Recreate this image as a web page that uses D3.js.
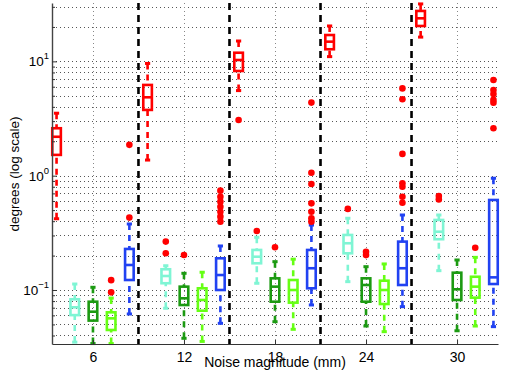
<!DOCTYPE html>
<html>
<head>
<meta charset="utf-8">
<script src="https://cdn.jsdelivr.net/npm/d3@7"></script>
<style>
  body { margin: 0; background: #fff; }
  svg { display: block; font-family: "Liberation Sans", Arial, sans-serif; }
</style>
</head>
<body>
<svg id="chart" width="505" height="373"></svg>
<script>
// noise levels on the x axis, and the dashed dividers between them
const noiseLevels = [6, 12, 18, 24, 30];
const dividers = [9, 15, 21, 27];

// one colour and x offset per method (5 boxes per noise level)
const seriesColors = ["#ff0000", "#7ff5d4", "#1c9a12", "#66ff14", "#2142f2"];
const seriesOffsets = [-2.4, -1.2, 0, 1.2, 2.4];

// box stats per noise level: [low whisker, q1, median, q3, high whisker]
const redBoxes = [
  [0.42, 1.52, 2.19, 2.6, 3.52],
  [1.37, 3.76, 4.85, 6.22, 9.59],
  [5.55, 8.24, 10.28, 11.9, 15.07],
  [11.0, 12.76, 14.87, 17.0, 20.4],
  [16.3, 20.4, 23.8, 27.6, 31.8]
];
const cyanBoxes = [
  [0.035, 0.0603, 0.0706, 0.0829, 0.1128],
  [0.0692, 0.1146, 0.1326, 0.1518, 0.163],
  [0.1145, 0.1713, 0.1955, 0.224, 0.289],
  [0.1183, 0.2095, 0.2564, 0.303, 0.424],
  [0.1476, 0.278, 0.3236, 0.41, 0.453]
];
const darkGreenBoxes = [
  [0.034, 0.054, 0.0646, 0.079, 0.1056],
  [0.0378, 0.0739, 0.0846, 0.107, 0.14],
  [0.0528, 0.079, 0.107, 0.1265, 0.177],
  [0.0484, 0.079, 0.1106, 0.1265, 0.16],
  [0.044, 0.0818, 0.1014, 0.1417, 0.183]
];
const lightGreenBoxes = [
  [0.034, 0.0447, 0.0565, 0.0638, 0.085],
  [0.0355, 0.0659, 0.0818, 0.1035, 0.143],
  [0.0453, 0.0775, 0.1, 0.1223, 0.186],
  [0.0432, 0.0754, 0.1, 0.1206, 0.169],
  [0.0484, 0.0857, 0.107, 0.1306, 0.193]
];
const blueBoxes = [
  [0.0617, 0.1223, 0.1655, 0.2286, 0.378],
  [0.0511, 0.1, 0.1352, 0.1894, 0.2427],
  [0.074, 0.1035, 0.155, 0.224, 0.37],
  [0.0715, 0.1106, 0.155, 0.265, 0.453],
  [0.0478, 0.1128, 0.129, 0.613, 0.95]
];
const allBoxes = [redBoxes, cyanBoxes, darkGreenBoxes, lightGreenBoxes, blueBoxes];

// outliers: [noise level, series index, value]
const outliers = [
  [6, 3, 0.122], [6, 3, 0.0954], [6, 4, 1.86], [6, 4, 0.43],
  [12, 1, 0.265], [12, 1, 0.2095], [12, 2, 0.2024],
  [12, 4, 0.74], [12, 4, 0.655], [12, 4, 0.593], [12, 4, 0.535], [12, 4, 0.484], [12, 4, 0.438], [12, 4, 0.396],
  [18, 0, 3.07], [18, 1, 0.328], [18, 2, 0.2365],
  [18, 4, 4.36], [18, 4, 1.06], [18, 4, 0.846], [18, 4, 0.573], [18, 4, 0.484], [18, 4, 0.424], [18, 4, 0.396],
  [24, 1, 0.512], [24, 2, 0.216], [24, 2, 0.202],
  [24, 4, 5.8], [24, 4, 4.66], [24, 4, 1.55], [24, 4, 0.858], [24, 4, 0.8], [24, 4, 0.655], [24, 4, 0.58],
  [30, 1, 0.664], [30, 1, 0.62], [30, 3, 0.234],
  [30, 4, 6.87], [30, 4, 5.62], [30, 4, 5.19], [30, 4, 4.6], [30, 4, 4.35], [30, 4, 2.6]
];

const yDecades = [0.1, 1, 10];
const decadeExp = ["\u22121", "0", "1"];

const plot = { left: 52, right: 498, top: 3, bottom: 344 };
const svg = d3.select("#chart");

const x = d3.scaleLinear().domain([3.3, 32.7]).range([plot.left, plot.right]);
const y = d3.scaleLog().domain([0.0337, 32.4]).range([plot.bottom, plot.top]);

const crisp = (v) => Math.round(v) + 0.5;

// grid lines (dotted)
svg.append("g")
  .selectAll("line")
  .data(y.ticks())
  .join("line")
  .attr("x1", plot.left)
  .attr("x2", plot.right)
  .attr("y1", (d) => crisp(y(d)))
  .attr("y2", (d) => crisp(y(d)))
  .attr("stroke", "#555")
  .attr("stroke-width", 1)
  .attr("stroke-dasharray", "1,3");

svg.append("g")
  .selectAll("line")
  .data(noiseLevels)
  .join("line")
  .attr("x1", (d) => crisp(x(d)))
  .attr("x2", (d) => crisp(x(d)))
  .attr("y1", plot.top)
  .attr("y2", plot.bottom)
  .attr("stroke", "#888")
  .attr("stroke-width", 1)
  .attr("stroke-dasharray", "1,3");

// dashed dividers between noise levels
svg.append("g")
  .selectAll("line")
  .data(dividers)
  .join("line")
  .attr("x1", (d) => x(d))
  .attr("x2", (d) => x(d))
  .attr("y1", plot.top)
  .attr("y2", plot.bottom)
  .attr("stroke", "#000")
  .attr("stroke-width", 2.6)
  .attr("stroke-dasharray", "7,5");

// box plots
const halfBox = 4.3;
const lineW = 2.6;
allBoxes.forEach((boxes, si) => {
  const color = seriesColors[si];
  const g = svg.append("g").attr("stroke", color).attr("fill", "none");
  boxes.forEach((b, gi) => {
    const cx = x(noiseLevels[gi] + seriesOffsets[si]);
    const [lo, q1, med, q3, hi] = b;
    // whiskers
    g.append("line")
      .attr("x1", cx).attr("x2", cx)
      .attr("y1", y(hi)).attr("y2", y(q3))
      .attr("stroke-width", lineW)
      .attr("stroke-dasharray", "6,5");
    g.append("line")
      .attr("x1", cx).attr("x2", cx)
      .attr("y1", y(lo)).attr("y2", y(q1))
      .attr("stroke-width", lineW)
      .attr("stroke-dasharray", "6,5");
    // caps
    [lo, hi].forEach((v) => {
      g.append("line")
        .attr("x1", cx - 2.6).attr("x2", cx + 2.6)
        .attr("y1", y(v)).attr("y2", y(v))
        .attr("stroke-width", 3);
    });
    // box and median
    g.append("rect")
      .attr("x", cx - halfBox)
      .attr("y", y(q3))
      .attr("width", halfBox * 2)
      .attr("height", y(q1) - y(q3))
      .attr("stroke-width", lineW);
    g.append("line")
      .attr("x1", cx - halfBox).attr("x2", cx + halfBox)
      .attr("y1", y(med)).attr("y2", y(med))
      .attr("stroke-width", lineW);
  });
});

// outliers
svg.append("g")
  .selectAll("circle")
  .data(outliers)
  .join("circle")
  .attr("cx", (d) => x(d[0] + seriesOffsets[d[1]]))
  .attr("cy", (d) => y(d[2]))
  .attr("r", 3.3)
  .attr("fill", "#ff0000");

// x axis
const xAxis = d3.axisBottom(x)
  .tickValues(noiseLevels)
  .tickSizeInner(-4)
  .tickSizeOuter(0)
  .tickPadding(8);
const xg = svg.append("g")
  .attr("transform", `translate(0,${plot.bottom})`)
  .call(xAxis);
xg.select(".domain").attr("stroke", "#333").attr("stroke-width", 1.2);
xg.selectAll(".tick line").attr("stroke", "#333");
xg.selectAll(".tick text")
  .attr("font-size", 14)
  .attr("fill", "#000")
  .attr("font-family", "Liberation Sans, Arial, sans-serif");

// y axis (log, minor ticks)
const yAxis = d3.axisLeft(y)
  .tickValues(y.ticks())
  .tickSizeInner(-3)
  .tickSizeOuter(0)
  .tickFormat("");
const yg = svg.append("g")
  .attr("transform", `translate(${plot.left},0)`)
  .call(yAxis);
yg.select(".domain").attr("stroke", "#444").attr("stroke-width", 1.4);
yg.selectAll(".tick line")
  .attr("stroke", "#333")
  .attr("x2", (d) => (yDecades.includes(d) ? 5 : 3));

// decade labels like 10^1
yDecades.forEach((d, i) => {
  const t = svg.append("text")
    .attr("x", 49)
    .attr("y", y(d) + 5)
    .attr("text-anchor", "end")
    .attr("font-size", 13.5)
    .attr("fill", "#000");
  t.append("tspan").text("10");
  t.append("tspan")
    .attr("font-size", 9.5)
    .attr("dy", -7)
    .text(decadeExp[i]);
});

// axis titles
svg.append("text")
  .attr("x", (plot.left + plot.right) / 2)
  .attr("y", 367)
  .attr("text-anchor", "middle")
  .attr("font-size", 14)
  .text("Noise magnitude (mm)");

svg.append("text")
  .attr("transform", "translate(19,174) rotate(-90)")
  .attr("text-anchor", "middle")
  .attr("font-size", 13.5)
  .text("degrees (log scale)");
</script>
</body>
</html>
